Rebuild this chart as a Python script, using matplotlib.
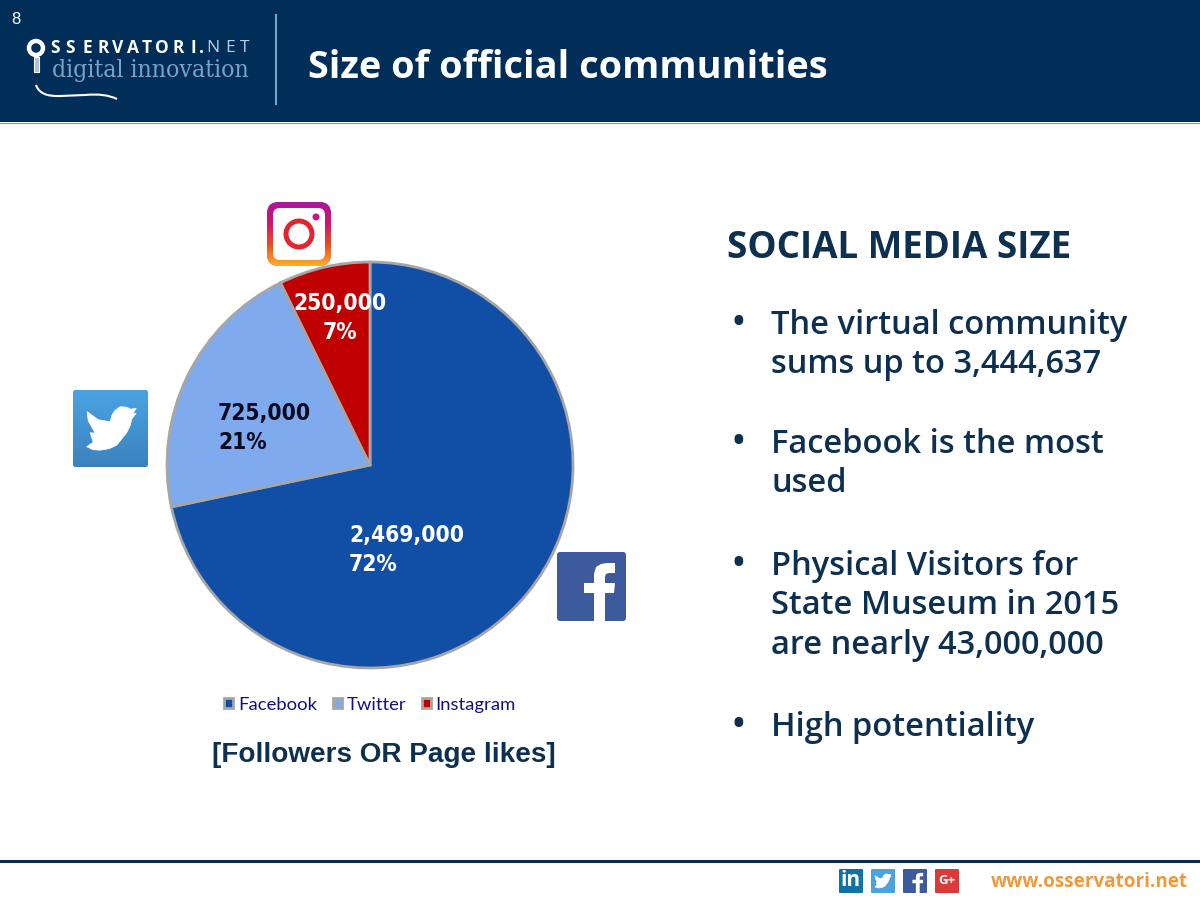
import numpy as np
import matplotlib
matplotlib.use('Agg')
import matplotlib.pyplot as plt
from matplotlib.patches import Rectangle, FancyBboxPatch, Circle, PathPatch, Polygon
from matplotlib.path import Path
from matplotlib.colors import LinearSegmentedColormap

platforms = ['Facebook', 'Twitter', 'Instagram']
followers = [2469000, 725000, 250000]
percent = [72, 21, 7]
slice_colors = ['#114ea6', '#7faaee', '#c00000']
label_colors = ['white', '#0a0a20', 'white']
bullets = ['The virtual community\nsums up to 3,444,637',
           'Facebook is the most\nused',
           'Physical Visitors for\nState Museum in 2015\nare nearly 43,000,000',
           'High potentiality']

NAVY = '#012d59'
plt.rcParams['font.family'] = ['Open Sans', 'DejaVu Sans']

fig = plt.figure(figsize=(12, 9), dpi=100, facecolor='white')

# pixel coordinates for everything around the chart
bg = fig.add_axes([0, 0, 1, 1])
bg.set_xlim(0, 1200)
bg.set_ylim(900, 0)
bg.axis('off')


def icon(x, y, w, h, color, r=3):
    box = FancyBboxPatch((x + r, y + r), w - 2 * r, h - 2 * r, boxstyle='round,pad=%d' % r,
                         fc=color, ec='none', zorder=3)
    bg.add_patch(box)
    return box


def gradient(box, x, y, w, h, colors):
    cmap = LinearSegmentedColormap.from_list('g', colors)
    im = bg.imshow(np.linspace(0, 1, 64).reshape(-1, 1), extent=(x, x + w, y + h, y), cmap=cmap,
                   aspect='auto', zorder=3, origin='upper')
    im.set_clip_path(box)


def bird(x, y, s):
    # rough twitter bird, unit box
    pts = [(0, .80), (.13, .71), (.07, .52), (.17, .53), (.03, .28), (.01, .10), (.23, .26), (.47, .30),
           (.50, .18), (.56, .08), (.67, 0), (.80, .01), (.88, .05), (.99, .03), (.92, .15), (.99, .13),
           (.90, .25), (.87, .38), (.80, .52), (.60, .77), (.45, .84), (.27, .87), (.12, .86)]
    bg.add_patch(Polygon([(x + a * s, y + b * s) for a, b in pts], fc='white', ec='white',
                         lw=0.5, zorder=4, joinstyle='round'))


def fb_f(x, y, s):
    # facebook f, drawn in a 69 unit box
    pts = [(37, 69), (37, 41), (27, 41), (27, 31), (37, 31), (37, 22), (39, 15), (44, 12), (50, 11), (58, 11),
           (58, 21), (52, 21), (49, 22), (48, 25), (48, 31), (58, 31), (57, 41), (48, 41), (48, 69)]
    k = s / 69
    bg.add_patch(Polygon([(x + a * k, y + b * k) for a, b in pts], fc='white', ec='none', zorder=4))


# header
bg.add_patch(Rectangle((0, 0), 1200, 122, fc=NAVY, ec='none'))
bg.plot([0, 1200], [122.5, 122.5], color='#6f9cc4', lw=0.8)
bg.plot([276, 276], [15, 104], color='#7ba3c8', lw=1.5)
bg.text(11, 19, '8', color='white', fontsize=12, family='Liberation Sans', ha='left', va='center')
bg.text(308, 68, 'Size of official communities', color='white', fontsize=27.3, fontweight='bold',
        family='Open Sans', va='center', ha='left')

# logo
bg.add_patch(Circle((36, 48), 7, fc=NAVY, ec='white', lw=3.2))
bg.add_patch(Rectangle((33.5, 57), 5, 15, fc='#a9c3da', ec='white', lw=0.8))
logo_x = [55, 70, 87, 103, 118, 133, 147, 162, 178, 193, 201]
for ch, x in zip('SSERVATORI.', logo_x):
    bg.text(x, 48, ch, color='white', fontsize=12.5, fontweight='bold', ha='center', va='center')
for ch, x in zip('NET', [213, 230, 245]):
    bg.text(x, 48, ch, color='#b9cfe2', fontsize=12.5, ha='center', va='center')
bg.text(52, 71, 'digital innovation', color='#7ba3c8', fontsize=17.7, family='DejaVu Serif',
        va='center', ha='left', fontstretch='condensed')
swoosh = Path([(36, 85), (40, 97), (60, 96), (85, 95), (105, 93), (117, 99)],
              [Path.MOVETO, Path.CURVE3, Path.CURVE3, Path.LINETO, Path.CURVE3, Path.CURVE3])
bg.add_patch(PathPatch(swoosh, fc='none', ec='white', lw=1.5))

# pie
cx, cy, radius = 370, 465, 203
ax = fig.add_axes([(cx - radius) / 1200, 1 - (cy + radius) / 900, 2 * radius / 1200, 2 * radius / 900])
wedges, _ = ax.pie(followers, colors=slice_colors, startangle=90, counterclock=False, radius=1,
                   wedgeprops=dict(edgecolor='#a6a6a6', linewidth=2))
ax.set_xlim(-1, 1)
ax.set_ylim(-1, 1)
for w in wedges:
    w.set_clip_on(False)

label_pos = [(349, 550, 'left'), (218, 428, 'left'), (340, 318, 'center')]
for v, p, c, (x, y, ha) in zip(followers, percent, label_colors, label_pos):
    bg.text(x, y, f'{v:,}\n{p}%', color=c, fontsize=16.3, fontweight='semibold', ha=ha, va='center',
            linespacing=1.3, zorder=6, family='DejaVu Sans', fontstretch='condensed')
bg.set_zorder(1)
ax.set_zorder(0)
bg.patch.set_alpha(0)

leg = ax.legend(wedges, platforms, loc='center', bbox_to_anchor=(0.5, -0.09), ncol=3, frameon=False,
                prop=dict(family='Lato', size=13.3), labelcolor='#16107e', handlelength=0.5, handleheight=0.5,
                handletextpad=0.25, columnspacing=0.85)

bg.text(384, 755, '[Followers OR Page likes]', color='#0d2f50', fontsize=20.1, fontweight='bold',
        family='Liberation Sans', ha='center', va='center')

# chart icons
box = icon(267, 202, 64, 64, '#c13584', r=12)
gradient(box, 267, 202, 64, 64, ['#a8179c', '#d6156a', '#ee4a20', '#f9b02c'])
bg.add_patch(FancyBboxPatch((280, 215), 38, 38, boxstyle='round,pad=7', fc='white', ec='none', zorder=4))
bg.add_patch(Circle((299, 234), 13, fc='white', ec='#e0262f', lw=3.6, zorder=5))
bg.add_patch(Circle((316, 217), 3.5, fc='#c5168b', ec='none', zorder=5))

box = icon(73, 390, 75, 77, '#3f8fd0', r=3)
gradient(box, 73, 390, 75, 77, ['#4ba3e4', '#3b82bd'])
bird(86.7, 406.7, 50)

icon(557, 552, 69, 69, '#3c5a9c', r=3)
fb_f(557, 552, 69)

# right column
bg.text(727, 248, 'SOCIAL MEDIA SIZE', color='#0d2f50', fontsize=26.5, fontweight='bold',
        family='Open Sans', ha='left', va='center')
bullet_y = [345, 464, 606, 727]
for txt, y in zip(bullets, bullet_y):
    bg.text(771, y, txt, color='#0d2f50', fontsize=23.5, fontweight='semibold', ha='left', va='center',
            linespacing=1.27)
    n = txt.count('\n') + 1
    bg.text(738, y - (n - 1) * 20 - 1, '\u2022', color='#0d2f50', fontsize=30, ha='center', va='center')

# footer
bg.plot([0, 1200], [860.5, 860.5], color='#0a2a52', lw=2.2)
icon(839, 869, 24, 24, '#0f73a8', r=1)
bg.text(851, 881, 'in', color='white', fontsize=15, fontweight='bold', ha='center', va='center', zorder=4)
icon(871, 869, 24, 24, '#4ba3de', r=1)
bird(875, 874, 16)
icon(903, 869, 24, 24, '#3c5a9c', r=1)
fb_f(903, 869, 24)
icon(935, 869, 24, 24, '#dc3a3a', r=1)
bg.text(947, 881, 'G+', color='white', fontsize=9.5, fontweight='bold', ha='center', va='center', zorder=4)
bg.text(1188, 882, 'www.osservatori.net', color='#ec9a3c', fontsize=13.6, fontweight='bold',
        ha='right', va='center')

bg.set_xlim(0, 1200)
bg.set_ylim(900, 0)
fig.savefig('out.png', dpi=100)
